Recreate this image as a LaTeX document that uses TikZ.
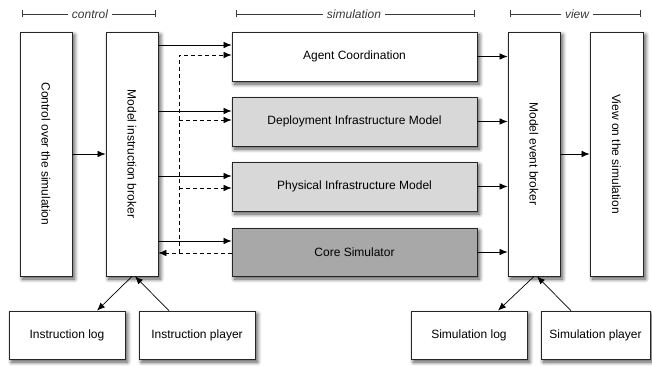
\documentclass[tikz,border=0pt]{standalone}
\usepackage{fontspec}
\setmainfont{Liberation Sans}
\usetikzlibrary{arrows.meta,shadows.blur}

\definecolor{lightbox}{HTML}{D8D8D8}
\definecolor{darkbox}{HTML}{A8A8A8}
\definecolor{rulegray}{HTML}{3A3A3A}

\tikzset{
  box/.style={draw=black!85, line width=0.8pt, fill=white, inner sep=0pt,
    font=\fontsize{12}{14}\selectfont,
    blur shadow={shadow xshift=2.5pt, shadow yshift=-3pt,
      shadow blur radius=4pt, shadow blur steps=8, shadow opacity=70}},
  tall/.style={box, minimum width=52pt, minimum height=244pt},
  wide/.style={box, minimum width=245pt, minimum height=49pt},
  small/.style={box, minimum width=116pt, minimum height=48pt},
  arr/.style={line width=0.7pt, -{Latex[length=8pt,width=6.5pt]}},
  darr/.style={arr, dash pattern=on 4pt off 3pt},
  span/.style={draw=rulegray, line width=0.7pt, {Bar[width=7pt]}-{Bar[width=7pt]}},
  head/.style={fill=white, text=rulegray, inner xsep=4pt,
    font=\fontsize{12}{14}\itshape}
}

\begin{document}
\begin{tikzpicture}[x=1pt, y=-1pt]
  \useasboundingbox (0,0) rectangle (652,366);

  % section headers
  \coordinate (cL) at (22,14);  \coordinate (cR) at (156,14);
  \coordinate (sL) at (236,14); \coordinate (sR) at (475,14);
  \coordinate (vL) at (510,14); \coordinate (vR) at (641,14);
  \draw[span] (cL) -- (cR);
  \draw[span] (sL) -- (sR);
  \draw[span] (vL) -- (vR);
  \node[head] (hctrl) at (90,14) {control};
  \node[head] (hsim)  at (354,14) {simulation};
  \node[head] (hview) at (577,14) {view};

  % control column
  \node[tall] (ctrl) at (46,154) {\rotatebox{-90}{Control over the simulation}};
  \node[tall] (mib)  at (132,154) {\rotatebox{-90}{Model instruction broker}};

  % simulation models
  \node[wide] (agent)  at (354.5,56.5)  {Agent Coordination};
  \node[wide, fill=lightbox] (deploy) at (354.5,121.5) {Deployment Infrastructure Model};
  \node[wide, fill=lightbox] (phys)   at (354.5,186.5) {Physical Infrastructure Model};
  \node[wide, fill=darkbox, minimum height=48pt] (core) at (354.5,252) {Core Simulator};

  % view column
  \node[tall] (meb)  at (534,154) {\rotatebox{-90}{Model event broker}};
  \node[tall, minimum width=53pt] (view) at (616.5,154) {\rotatebox{-90}{View on the simulation}};

  % logs and players
  \node[small] (ilog)    at (67,335)    {Instruction log};
  \node[small] (iplay)   at (197,335)   {Instruction player};
  \node[small] (slog)    at (469,335)   {Simulation log};
  \node[small, minimum width=109pt] (splay) at (595.5,335) {Simulation player};

  % control flow
  \draw[arr] (ctrl) -- (mib);
  \draw[arr] (mib.east |- 0,45)  -- (agent.west |- 0,45);
  \draw[arr] (mib.east |- 0,111) -- (deploy.west |- 0,111);
  \draw[arr] (mib.east |- 0,176) -- (phys.west |- 0,176);
  \draw[arr] (mib.east |- 0,241) -- (core.west |- 0,241);

  % feedback from the core simulator
  \coordinate (dtop) at (179,55);
  \coordinate (dbot) at (179,253);
  \draw[darr] (core.west |- dbot) -- (mib.east |- dbot);
  \draw[darr] (dbot) -- (dtop) -- (agent.west |- dtop);
  \draw[darr] (dbot |- 0,120) -- (deploy.west |- 0,120);
  \draw[darr] (dbot |- 0,188) -- (phys.west |- 0,188);

  % events to the view
  \draw[arr] (agent.east)  -- (meb.west |- agent.east);
  \draw[arr] (deploy.east) -- (meb.west |- deploy.east);
  \draw[arr] (phys.east)   -- (meb.west |- phys.east);
  \draw[arr] (core.east)   -- (meb.west |- core.east);
  \draw[arr] (meb) -- (view);

  % recording and replay
  \draw[arr] (mib.south) -- ([xshift=30pt]ilog.north);
  \draw[arr] ([xshift=-28pt]iplay.north) -- ([xshift=3pt]mib.south);
  \draw[arr] (meb.south) -- ([xshift=29pt]slog.north);
  \draw[arr] ([xshift=-24.5pt]splay.north) -- ([xshift=3pt]meb.south);
\end{tikzpicture}
\end{document}
